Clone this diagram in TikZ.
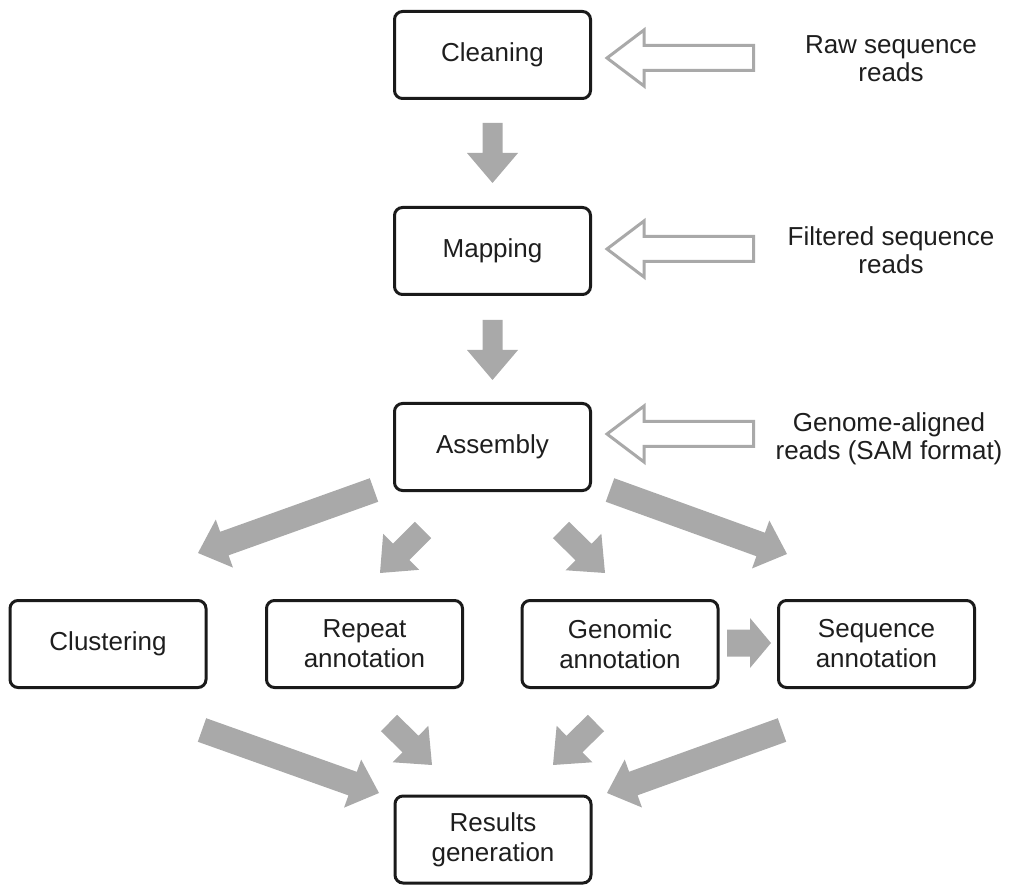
\documentclass[tikz,border=0pt]{standalone}
\usepackage{fontspec}
\setmainfont{Liberation Sans}
\usetikzlibrary{calc}
\definecolor{arrgray}{HTML}{A9A9A9}
\definecolor{txtcol}{HTML}{1E1E1E}
\definecolor{boxline}{HTML}{1A1A1A}
% #1 from, #2 to, #3 shaft half width, #4 head half width, #5 head length
\newcommand\fatarrow[5]{%
  \coordinate (fa-b) at ($(#2)!#5!(#1)$);
  \fill[arrgray] ($(#1)!#3!90:(#2)$) -- ($(fa-b)!#3!90:(#2)$) -- ($(fa-b)!#4!90:(#2)$) -- (#2)
    -- ($(fa-b)!#4!-90:(#2)$) -- ($(fa-b)!#3!-90:(#2)$) -- ($(#1)!#3!-90:(#2)$) -- cycle;}
\begin{document}
\begin{tikzpicture}[x=1pt,y=-1pt,
  box/.style={draw=boxline, line width=3pt, rounded corners=8pt, minimum width=196pt,
    minimum height=87pt, inner sep=0pt, align=center, font=\fontsize{26}{30}\selectfont, text=txtcol},
  lbl/.style={align=center, font=\fontsize{26}{28}\selectfont, text=txtcol, inner sep=0pt},
  hollow/.style={draw=arrgray, line width=3pt, fill=white, line join=miter}]
\useasboundingbox (0,0) rectangle (1013,885);

% boxes
\node[box] (clean) at (492.5,55) {Cleaning};
\node[box] (map) at (492.5,251) {Mapping};
\node[box] (asm) at (492.5,447) {Assembly};
\node[box] (clus) at (108,644) {Clustering};
\node[box] (rep) at (364.5,644) {Repeat\\annotation};
\node[box] (gen) at (620,644) {Genomic\\annotation};
\node[box] (seq) at (876.5,644) {Sequence\\annotation};
\node[box] (res) at (493,839.5) {Results\\generation};

% input labels
\node[lbl] (raw) at (891,58.5) {Raw sequence\\reads};
\node[lbl] (filt) at (891,250) {Filtered sequence\\reads};
\node[lbl] (gal) at (889,439) {Genome-aligned\\reads (SAM format)};

% hollow input arrows
\coordinate (h1) at (607,58);
\coordinate (h2) at (607,249);
\coordinate (h3) at (607,434);
\foreach \h in {h1,h2,h3}{
  \draw[hollow] (\h) -- ++(37,-28) -- ++(0,15.5) -- ++(109.5,0) -- ++(0,25) -- ++(-109.5,0) -- ++(0,15.5) -- cycle;
}

% arrow end points
\coordinate (d1s) at (492.5,123);  \coordinate (d1e) at (492.5,183);
\coordinate (d2s) at (492.5,320);  \coordinate (d2e) at (492.5,380);
\coordinate (acs) at (374,490);    \coordinate (ace) at (198,553);
\coordinate (ars) at (423,530);    \coordinate (are) at (380,573);
\coordinate (ags) at (561,530);    \coordinate (age) at (605,573);
\coordinate (ass) at (610,490);    \coordinate (ase) at (787,554);
\coordinate (crs) at (202,730);    \coordinate (cre) at (379,793);
\coordinate (rrs) at (389,723);    \coordinate (rre) at (432,765);
\coordinate (grs) at (596,723);    \coordinate (gre) at (553,765);
\coordinate (srs) at (782,730);    \coordinate (sre) at (607,793);
\coordinate (gss) at (727,643);    \coordinate (gse) at (771,643);

\fatarrow{d1s}{d1e}{10pt}{25.5pt}{30pt}
\fatarrow{d2s}{d2e}{10pt}{25.5pt}{30pt}
\fatarrow{acs}{ace}{12.5pt}{25.5pt}{28pt}
\fatarrow{ars}{are}{11.5pt}{25.5pt}{30pt}
\fatarrow{ags}{age}{11.5pt}{25.5pt}{30pt}
\fatarrow{ass}{ase}{12.5pt}{25.5pt}{28pt}
\fatarrow{crs}{cre}{12.5pt}{25.5pt}{28pt}
\fatarrow{rrs}{rre}{11.5pt}{25.5pt}{30pt}
\fatarrow{grs}{gre}{11.5pt}{25.5pt}{30pt}
\fatarrow{srs}{sre}{12.5pt}{25.5pt}{28pt}
\fatarrow{gss}{gse}{13.5pt}{25pt}{21pt}
\end{tikzpicture}
\end{document}
